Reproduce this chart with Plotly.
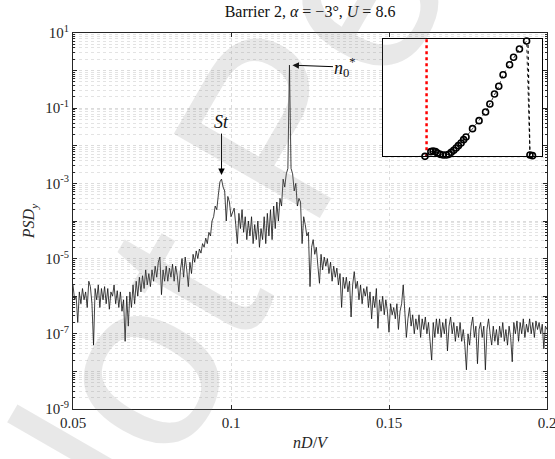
import numpy as np
import plotly.graph_objects as go

# ---------------- data ----------------
f_start, f_step, n_pts = 0.05, 0.0005, 301
freq = [round(f_start + f_step * k, 4) for k in range(n_pts)]

psd = [
    2.0e-6, 8.0e-7, 1.0e-6, 2.0e-7, 1.3e-6, 6.3e-7, 1.6e-6, 8.0e-7, 1.3e-6, 5.0e-7,
    2.5e-6, 1.8e-6, 6.3e-7, 5.0e-8, 1.6e-6, 8.0e-7, 2.0e-6, 5.0e-7, 1.6e-6, 8.0e-7,
    1.8e-6, 6.3e-7, 1.6e-6, 4.5e-7, 1.3e-6, 1.0e-6, 2.0e-6, 6.3e-7, 1.4e-6, 5.0e-7,
    1.3e-6, 4.0e-7, 8.0e-7, 6.3e-8, 1.0e-6, 1.6e-7, 1.3e-6, 5.0e-7, 2.0e-6, 6.3e-7,
    2.5e-6, 1.0e-6, 3.2e-6, 1.3e-6, 3.5e-6, 1.6e-6, 5.0e-6, 2.0e-6, 4.0e-6, 1.8e-6,
    5.0e-6, 2.5e-6, 6.3e-6, 3.2e-6, 8.0e-6, 1.1e-5, 1.1e-6, 5.0e-6, 2.5e-6, 6.3e-6,
    2.5e-6, 5.6e-6, 3.2e-6, 7.1e-6, 2.5e-6, 6.3e-6, 3.5e-6, 1.3e-6, 5.0e-6, 1.0e-5,
    3.2e-6, 1.1e-5, 5.0e-6, 1.8e-6, 8.0e-6, 4.0e-6, 1.3e-5, 8.0e-6, 1.6e-5, 1.0e-5,
    1.8e-5, 1.4e-5, 2.5e-5, 2.0e-5, 3.5e-5, 2.5e-5, 5.0e-5, 4.0e-5, 1.0e-4, 1.3e-4,
    2.5e-4, 2.0e-4, 5.0e-4, 1.1e-3, 1.3e-3, 8.0e-4, 6.3e-4, 1.0e-4, 4.5e-4, 3.2e-4,
    1.3e-4, 1.8e-4, 2.2e-4, 8.0e-5, 2.5e-5, 1.6e-4, 6.3e-5, 2.0e-4, 5.0e-5, 1.3e-4,
    3.2e-5, 1.0e-4, 4.0e-5, 1.3e-4, 2.5e-5, 8.0e-5, 3.2e-5, 1.0e-4, 2.0e-5, 6.3e-5,
    3.2e-5, 1.3e-4, 2.5e-5, 1.6e-4, 4.0e-5, 2.0e-4, 3.2e-5, 2.5e-4, 6.3e-5, 3.2e-4,
    1.0e-4, 4.0e-4, 2.5e-4, 1.3e-3, 8.0e-4, 1.8e-3, 2.5e-3, 1.4e+0, 2.5e-3, 1.8e-3,
    6.3e-4, 1.0e-3, 2.5e-4, 4.0e-4, 3.2e-4, 2.5e-5, 1.3e-4, 8.0e-5, 4.0e-5, 5.0e-5,
    1.8e-6, 2.0e-5, 3.2e-5, 1.3e-5, 2.0e-5, 6.3e-6, 2.2e-6, 1.3e-5, 5.0e-6, 1.1e-5,
    6.3e-6, 1.0e-5, 4.0e-6, 8.0e-6, 2.5e-6, 6.3e-6, 3.2e-6, 5.6e-6, 2.0e-6, 4.0e-6,
    5.0e-7, 3.2e-6, 1.6e-6, 3.2e-6, 1.3e-6, 2.5e-6, 2.8e-7, 2.0e-6, 4.5e-6, 1.6e-6,
    2.5e-6, 8.0e-7, 2.0e-6, 6.3e-7, 1.6e-6, 1.0e-6, 1.8e-6, 5.0e-7, 1.3e-6, 2.5e-7,
    1.0e-6, 5.0e-7, 1.6e-6, 1.4e-7, 8.0e-7, 4.0e-7, 1.0e-6, 3.2e-7, 8.0e-7, 4.0e-7,
    1.1e-7, 6.3e-7, 3.2e-7, 5.0e-7, 2.5e-7, 6.3e-7, 1.3e-7, 4.0e-7, 6.3e-7, 2.0e-6,
    5.0e-7, 8.0e-8, 2.5e-7, 5.0e-7, 1.6e-7, 3.2e-7, 1.0e-7, 2.5e-7, 1.3e-7, 3.2e-7,
    8.0e-8, 2.5e-7, 1.3e-7, 2.8e-7, 1.0e-7, 2.0e-7, 6.3e-8, 2.0e-8, 2.0e-7, 8.0e-8,
    2.5e-7, 1.0e-7, 2.5e-7, 8.0e-8, 2.0e-7, 1.0e-7, 2.5e-7, 3.5e-8, 1.6e-7, 2.8e-7,
    1.0e-7, 2.0e-7, 6.3e-8, 1.6e-7, 8.0e-8, 2.0e-7, 6.3e-8, 1.3e-7, 5.0e-8, 1.1e-8,
    1.0e-7, 5.0e-8, 1.6e-7, 2.8e-7, 8.0e-8, 1.6e-7, 1.6e-8, 1.3e-7, 2.0e-7, 8.0e-8,
    1.6e-7, 1.1e-8, 1.3e-7, 2.5e-7, 1.0e-7, 5.0e-8, 1.6e-7, 6.3e-8, 1.3e-7, 5.0e-8,
    1.6e-7, 8.0e-8, 2.0e-7, 6.3e-8, 1.3e-7, 5.0e-8, 1.6e-7, 8.0e-8, 1.8e-8, 2.0e-7,
    1.0e-7, 2.2e-7, 6.3e-8, 2.0e-7, 1.0e-7, 2.5e-7, 8.0e-8, 1.8e-7, 1.1e-7, 2.5e-7,
    1.0e-7, 2.0e-7, 8.0e-8, 2.2e-7, 1.3e-7, 2.0e-7, 1.0e-7, 1.8e-7, 4.0e-8, 1.6e-7,
    1.3e-7,
]

x_ticks = [0.05, 0.1, 0.15, 0.2]
x_tick_labels = ["0.05", "0.1", "0.15", "0.2"]
y_exponents = list(range(-9, 2))

# inset (normalised units)
inset_x = [0.037, 0.089, 0.115, 0.140, 0.167, 0.208, 0.223, 0.264, 0.301, 0.315,
           0.330, 0.342, 0.359, 0.379, 0.398, 0.414, 0.429, 0.445, 0.460, 0.474,
           0.491, 0.507, 0.522, 0.563, 0.604, 0.645, 0.672, 0.701, 0.728, 0.755,
           0.796, 0.821, 0.858, 0.903, 0.924, 0.940]
inset_y = [-0.006, -0.006, -0.006, -0.006, -0.006, -0.006, -0.006, 0.0, 0.040, 0.045,
           0.040, 0.028, 0.017, 0.011, 0.011, 0.017, 0.034, 0.051, 0.071, 0.091,
           0.114, 0.142, 0.165, 0.236, 0.304, 0.378, 0.446, 0.531, 0.597, 0.696,
           0.781, 0.844, 0.915, 0.983, 0.011, 0.006]
red_line_x = [0.274, 0.274]
red_line_y = [0.0, 1.0]
black_line_x = [0.912, 0.924]
black_line_y = [0.95, 0.02]

# ---------------- figure ----------------
SERIF = "Liberation Serif, Times New Roman, serif"
GRID = "#dcdcdc"
AX = "#262626"

fig = go.Figure()
fig.add_trace(go.Scatter(x=freq, y=psd, mode="lines",
                         line=dict(color="#111111", width=0.8),
                         showlegend=False, hoverinfo="skip"))

# inset
fig.add_trace(go.Scatter(x=red_line_x, y=red_line_y, mode="lines", xaxis="x2", yaxis="y2",
                         line=dict(color="#ff0000", width=2.5, dash="dot"),
                         showlegend=False, hoverinfo="skip"))
fig.add_trace(go.Scatter(x=black_line_x, y=black_line_y, mode="lines", xaxis="x2", yaxis="y2",
                         line=dict(color="#000000", width=1.2, dash="dot"),
                         showlegend=False, hoverinfo="skip"))
fig.add_trace(go.Scatter(x=inset_x, y=inset_y, mode="lines+markers", xaxis="x2", yaxis="y2",
                         line=dict(color="#000000", width=0.8, dash="dot"),
                         marker=dict(symbol="circle-open", size=6, color="#000000",
                                     line=dict(width=1.6)),
                         cliponaxis=False, showlegend=False, hoverinfo="skip"))

minor_vals = [m * 10.0 ** e for e in range(-9, 1) for m in range(2, 10)]

fig.update_layout(
    width=555, height=459,
    margin=dict(l=73, r=8, t=33, b=50),
    paper_bgcolor="white", plot_bgcolor="white",
    font=dict(family=SERIF, size=15, color="#262626"),
    title=dict(text="Barrier 2, <i>α</i> = −3°, <i>U</i> = 8.6",
               x=0.5586, xanchor="center", y=0.975, yanchor="middle",
               font=dict(family=SERIF, size=16, color="#111111")),
    xaxis=dict(range=[0.0499999, 0.2000001], tickvals=x_ticks, ticktext=x_tick_labels,
               ticks="inside", ticklen=4, tickcolor=AX, automargin=False,
               ticklabeloverflow="allow",
               showline=True, linecolor=AX, linewidth=1, mirror="ticks",
               showgrid=True, gridcolor=GRID, griddash="dot", gridwidth=1,
               zeroline=False, tickfont=dict(size=15),
               title=dict(text="<i>nD</i>/<i>V</i>", font=dict(size=16), standoff=6)),
    yaxis=dict(type="log", range=[-9, 1],
               tickvals=[10.0 ** e for e in y_exponents],
               ticktext=[("10<sup>%d</sup>" % e) if e % 2 else "" for e in y_exponents],
               ticks="inside", ticklen=4, tickcolor=AX, automargin=False,
               showline=True, linecolor=AX, linewidth=1, mirror="ticks",
               showgrid=True, gridcolor=GRID, griddash="dot", gridwidth=1,
               minor=dict(tickvals=minor_vals, ticks="inside", ticklen=2, tickcolor=AX,
                          showgrid=True, gridcolor="#e3e3e3", griddash="dot", gridwidth=1),
               zeroline=False, tickfont=dict(size=15),
               title=dict(text="<i>PSD<sub>y</sub></i>", font=dict(size=16), standoff=6)),
    xaxis2=dict(domain=[0.654, 0.9895], range=[0, 1], anchor="y2",
                showticklabels=False, ticks="", showgrid=False, zeroline=False,
                showline=True, linecolor="#000000", linewidth=1, mirror=True),
    yaxis2=dict(domain=[0.672, 0.984], range=[0, 1], anchor="x2",
                showticklabels=False, ticks="", showgrid=False, zeroline=False,
                showline=True, linecolor="#000000", linewidth=1, mirror=True),
)

# annotations: arrows pointing to the two peaks (positions taken from the data)
st_idx = int(np.argmax(psd[:120]))
n0_idx = int(np.argmax(psd))
fig.add_annotation(x=freq[st_idx], y=np.log10(psd[st_idx]), xref="x", yref="y",
                   text="<i>St</i>", showarrow=True, arrowhead=2, arrowsize=1.3,
                   arrowwidth=1, arrowcolor="#000000", ax=0, ay=-57, standoff=4,
                   font=dict(family=SERIF, size=18, color="#111111"))
fig.add_annotation(x=freq[n0_idx], y=np.log10(psd[n0_idx]), xref="x", yref="y",
                   text="<i>n</i><sub>0</sub><sup>*</sup>", showarrow=True, arrowhead=2,
                   arrowsize=1.3, arrowwidth=1, arrowcolor="#000000", ax=56, ay=2,
                   standoff=3, font=dict(family=SERIF, size=18, color="#111111"))

# watermark
fig.add_annotation(x=0.984, y=1.97, xref="paper", yref="paper",
                   xanchor="center", yanchor="middle",
                   text="Not Peer Reviewed", showarrow=False, textangle=-60,
                   font=dict(family="Liberation Sans, Arial, sans-serif", size=245,
                             color="rgba(120,120,120,0.17)"))

fig.write_html("out.html")
